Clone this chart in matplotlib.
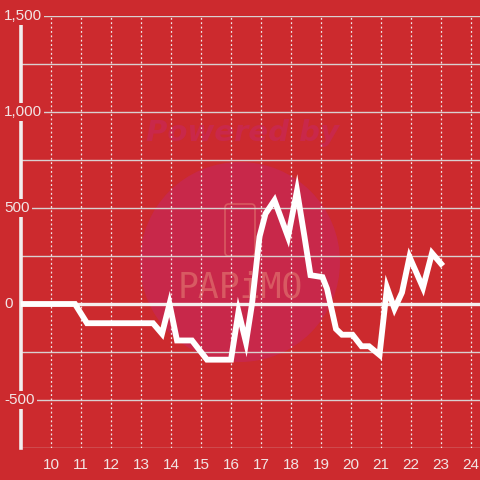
import matplotlib
matplotlib.use("Agg")
import matplotlib.pyplot as plt
from matplotlib.patches import Circle, FancyBboxPatch
import matplotlib.transforms as mtrans

# balance over time
hours = [9.0, 10.8, 11.2, 13.4, 13.7, 13.95, 14.2, 14.7, 15.2, 16.0, 16.25, 16.5, 16.7,
         16.95, 17.15, 17.45, 17.9, 18.2, 18.45, 18.65, 19.05, 19.2, 19.5, 19.7, 20.05,
         20.35, 20.6, 20.95, 21.2, 21.45, 21.7, 21.95, 22.4, 22.7, 23.0]
balance = [0, 0, -100, -100, -155, 0, -190, -190, -290, -290, -40, -200, 0,
           350, 470, 540, 350, 590, 350, 150, 140, 80, -130, -160, -160,
           -220, -220, -265, 85, -25, 60, 245, 85, 265, 210]
xticks = list(range(10, 25))
yticks = [-500, 0, 500, 1000, 1500]
ylabels = ["-500", "0", "500", "1,000", "1,500"]

BG = "#cc2a2e"
LIGHT = "#f2e4e4"
plt.rcParams['font.family'] = ['Liberation Sans', 'DejaVu Sans']

fig = plt.figure(figsize=(4.8, 4.8), dpi=100, facecolor=BG)
ax = fig.add_axes([21/480, 32/480, 459/480, 432/480], facecolor=BG)
ax.set_xlim(9.0, 24.3)
ax.set_ylim(-750, 1500)

# watermark
fig.patches.append(Circle((240/480, 1-262/480), 100/480, transform=fig.transFigure,
                          facecolor="#c8284a", edgecolor="none", zorder=0.5))
fig.text(243/480, 1-133/480, "Powered by", ha="center", va="center", fontsize=21,
         fontweight="bold", style="italic", color="#c9284a", family="DejaVu Sans", zorder=0.6)
fig.text(240/480, 1-287/480, "PAPiMO", ha="center", va="center", fontsize=25,
         color="#d85a62", family="DejaVu Sans Mono", zorder=0.6)
fig.patches.append(FancyBboxPatch((225/480, 1-256/480), 30/480, 52/480,
                                  boxstyle="round,pad=0,rounding_size=0.008",
                                  transform=fig.transFigure, facecolor="none",
                                  edgecolor="#d85a62", lw=1.2, zorder=0.6))
ax.set_zorder(1)
ax.patch.set_alpha(0)

# grid
for y in range(-750, 1501, 250):
    if y == 0:
        continue
    ax.axhline(y, color="#d9d0d0", lw=1.0, zorder=1)
for x in xticks:
    ax.axvline(x, color="#f0e8e8", lw=0.9, ls=(0, (1.5, 2)), zorder=1)
ax.axhline(0, color="#f4eeee", lw=2.4, zorder=2)

ax.plot(hours, balance, color="white", lw=4.2, solid_joinstyle="miter", zorder=3)

for s in ["top", "right", "bottom"]:
    ax.spines[s].set_visible(False)
ax.spines["left"].set_color("#f2eeee")
ax.spines["left"].set_linewidth(2.6)
ax.spines["left"].set_zorder(2.5)

ax.set_xticks(xticks)
ax.set_xticklabels([str(x) for x in xticks])
ax.tick_params(axis="x", length=0, pad=7, labelsize=11, labelcolor=LIGHT)
ax.set_yticks([])

trans = mtrans.blended_transform_factory(fig.transFigure, ax.transData)
for y, lab in zip(yticks, ylabels):
    ax.text(4/480, y, lab, transform=trans, ha="left", va="center", fontsize=11,
            color=LIGHT, clip_on=False, zorder=6,
            bbox=dict(facecolor=BG, edgecolor="none", pad=1.5))

fig.savefig("out.png", dpi=100, facecolor=BG)
